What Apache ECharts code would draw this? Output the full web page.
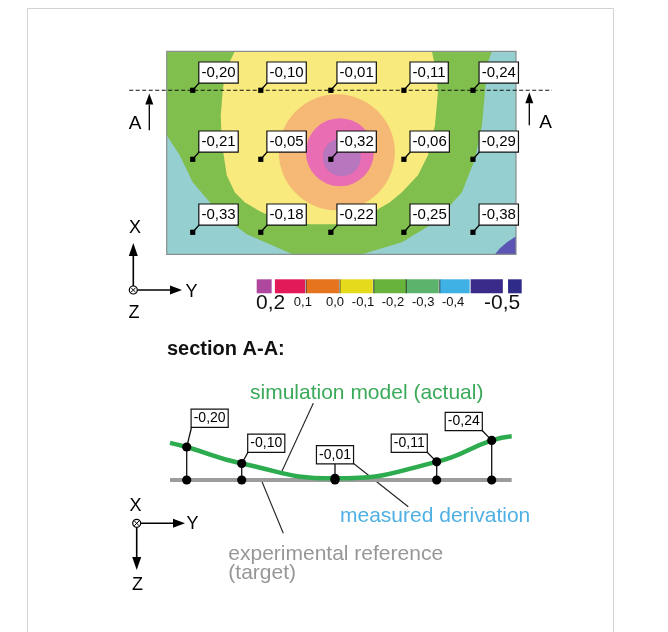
<!DOCTYPE html>
<html>
<head>
<meta charset="utf-8">
<script src="https://cdn.jsdelivr.net/npm/echarts@6/dist/echarts.min.js"></script>
<style>
html,body{margin:0;padding:0;background:#fff}
#chart{width:668px;height:632px}
</style>
</head>
<body>
<div id="chart"></div>
<script>
// ---- measured deviations on the sheet (mm), 3 rows x 5 columns ----
const colPos  = [26, 94, 164, 237, 306];      // position along Y
const rowPos  = [164, 95, 22];                 // position along X
const devRow1 = [-0.20, -0.10, -0.01, -0.11, -0.24];
const devRow2 = [-0.21, -0.05, -0.32, -0.06, -0.29];
const devRow3 = [-0.33, -0.18, -0.22, -0.25, -0.38];

// ---- simulated deviation field: contour zones (outer to inner) ----
const zoneBase   = [[0, 0], [349, 0], [349, 203], [0, 203]];
const zoneGreen  = [[0, 203], [0, 119], [13, 99], [26, 72], [43, 52], [60, 35], [80, 20], [103, 10], [126, 0],
                    [195, 0], [235, 12], [268, 32], [295, 62], [308, 95], [315, 129], [318, 162], [321, 192], [325, 203]];
const zoneYellow = [[68, 203], [59, 184], [56, 164], [54, 139], [55, 112], [60, 79], [68, 62], [78, 52], [93, 43],
                    [113, 34], [143, 30], [173, 30], [201, 39], [223, 52], [235, 62], [251, 79], [261, 99],
                    [268, 129], [271, 162], [269, 184], [265, 203]];
const zoneOrange = [170, 102, 58];   // centre Y, centre X, radius
const zonePink   = [173, 102, 34];
const zoneLilac  = [175, 97, 19];
const zoneViolet = [[328, 0], [333, 6], [340, 12], [349, 18], [349, 0]];

// ---- colour scale (mm) ----
const scaleBandStart = [0, 0.56, 1.52, 2.56, 3.6, 4.6, 5.63, 6.58, 7.73];
const scaleBandEnd   = [0.46, 1.49, 2.53, 3.57, 4.6, 5.6, 6.55, 7.57, 8.15];
const scaleLabels    = ['0,2', '0,1', '0,0', '-0,1', '-0,2', '-0,3', '-0,4', '-0,5'];
const scaleLabelPos  = [0.43, 1.42, 2.41, 3.27, 4.19, 5.12, 6.04, 7.55];

// ---- section A-A (through the first row) ----
const secPos   = [16.7, 71.7, 165, 266.7, 321.7];
const simEndPos = [0, 341.7];
const simEndDev = [-0.225, -0.265];
const refPos   = [0, 341.7];
const refDev   = [0, 0];

// ---------------------------------------------------------------
const FONT = "'Liberation Sans', Arial, Helvetica, sans-serif";
const zoneFill = ['#95cfcf', '#80be4e', '#f8ea7c', '#f5b975', '#e86db2', '#b876be', '#5d55b3'];
const scaleFill = ['#b0479f', '#e31a5a', '#e6731e', '#e6da1c', '#68b33c', '#5cb36c', '#3fb1e5', '#3a2a8a', '#2f2b88'];
const secLabelLayout = [['left', 5, -53.3], ['left', 6.6, -28.3], ['center', 0, -16.7], ['right', -10, -28.3], ['right', -10, -50]];

const fmt = v => (v < 0 ? '-' : '') + Math.abs(v).toFixed(2).replace('.', ',');

const zones = [
  {poly: zoneBase}, {poly: zoneGreen}, {poly: zoneYellow},
  {circle: zoneOrange}, {circle: zonePink}, {circle: zoneLilac}, {poly: zoneViolet}
];

const mapPoints = [];
[devRow1, devRow2, devRow3].forEach((row, r) => {
  row.forEach((v, c) => mapPoints.push([colPos[c], rowPos[r], v]));
});

const simData = [[simEndPos[0], simEndDev[0]]]
  .concat(secPos.map((p, i) => [p, devRow1[i]]))
  .concat([[simEndPos[1], simEndDev[1]]]);
const refData = refPos.map((p, i) => [p, refDev[i]]);
const secData = secPos.map((p, i) => [p, devRow1[i]]);

function arrow(x1, y1, x2, y2, head, half, lw) {
  const dx = x2 - x1, dy = y2 - y1, len = Math.hypot(dx, dy), ux = dx / len, uy = dy / len;
  const bx = x2 - ux * head, by = y2 - uy * head;
  return [
    {type: 'line', shape: {x1: x1, y1: y1, x2: bx, y2: by}, style: {stroke: '#000', lineWidth: lw}},
    {type: 'polygon', shape: {points: [[x2, y2], [bx - uy * half, by + ux * half], [bx + uy * half, by - ux * half]]}, style: {fill: '#000'}}
  ];
}
function otimes(cx, cy, r) {
  const d = r * 0.62;
  return [
    {type: 'circle', shape: {cx: cx, cy: cy, r: r}, style: {fill: '#fff', stroke: '#000', lineWidth: 1.2}},
    {type: 'line', shape: {x1: cx - d, y1: cy - d, x2: cx + d, y2: cy + d}, style: {stroke: '#000', lineWidth: 1}},
    {type: 'line', shape: {x1: cx - d, y1: cy + d, x2: cx + d, y2: cy - d}, style: {stroke: '#000', lineWidth: 1}}
  ];
}
function label(text, x, y, size, color, weight, align) {
  return {type: 'text', x: x, y: y, style: {text: text, font: (weight || 'normal') + ' ' + size + 'px ' + FONT,
    fill: color || '#000', align: align || 'center', verticalAlign: 'middle'}};
}
function line(x1, y1, x2, y2, color, lw) {
  return {type: 'line', shape: {x1: x1, y1: y1, x2: x2, y2: y2}, style: {stroke: color || '#222', lineWidth: lw || 1}};
}

const graphics = [].concat(
  [{type: 'rect', shape: {x: 27.5, y: 8.5, width: 586, height: 640}, style: {fill: 'none', stroke: '#d2d2d2', lineWidth: 1}}],
  // coordinate system of the plan view
  [label('X', 135, 228.5, 18)],
  arrow(133.3, 286, 133.3, 243, 13, 4.5, 1.6),
  arrow(137.3, 290, 182, 290, 12, 4.5, 1.6),
  otimes(133.3, 290, 4),
  [label('Y', 191.5, 292.5, 18), label('Z', 134, 313.5, 18)],
  // section title and legend texts
  [label('section A-A:', 167, 349.5, 20, '#111', 'bold', 'left')],
  [label('simulation model (actual)', 250, 393, 21, '#3aa95a', 'normal', 'left')],
  [line(313.3, 403.3, 281.7, 471.7, '#222', 1.1)],
  [label('measured derivation', 340, 516.7, 21, '#4fb0e3', 'normal', 'left')],
  [line(353.3, 463.3, 408.3, 506.7, '#222', 1.1)],
  [label('experimental reference', 228.3, 554.4, 21, '#979797', 'normal', 'left'),
   label('(target)', 228.3, 573, 21, '#979797', 'normal', 'left')],
  [line(261.7, 481, 283.3, 533.3, '#222', 1.1)],
  // coordinate system of the section
  [label('X', 135.5, 506, 18)],
  arrow(140.7, 523.3, 185, 523.3, 12, 4.5, 1.6),
  arrow(136.7, 527.3, 136.7, 570, 13, 4.5, 1.6),
  otimes(136.7, 523.3, 4),
  [label('Y', 192.5, 524.5, 18), label('Z', 137.5, 585, 18)]
);

const chart = echarts.init(document.getElementById('chart'), null, {renderer: 'canvas'});
chart.setOption({
  animation: false,
  backgroundColor: '#fff',
  grid: [
    {left: 166.7, top: 51.3, width: 349.3, height: 203, show: false},
    {left: 256.7, top: 279.3, width: 265, height: 14, show: false},
    {left: 170, top: 430.5, width: 341.7, height: 57.75, show: false}
  ],
  xAxis: [
    {gridIndex: 0, type: 'value', min: 0, max: 349, show: false},
    {gridIndex: 1, type: 'value', min: 0, max: 8.15, show: false},
    {gridIndex: 2, type: 'value', min: 0, max: 341.7, show: false}
  ],
  yAxis: [
    {gridIndex: 0, type: 'value', min: 0, max: 203, show: false},
    {gridIndex: 1, type: 'value', min: 0, max: 1, show: false},
    {gridIndex: 2, type: 'value', min: -0.30, max: 0.05, inverse: true, show: false}
  ],
  graphic: graphics,
  series: [
    // contour zones of the deviation field
    {
      type: 'custom', xAxisIndex: 0, yAxisIndex: 0, clip: true, z: 1,
      data: zones.map((z, i) => [0, 0, i]),
      encode: {x: 0, y: 1},
      renderItem: function (params, api) {
        const z = zones[params.dataIndex];
        const fill = zoneFill[params.dataIndex];
        if (z.poly) {
          return {type: 'polygon', shape: {points: z.poly.map(p => api.coord(p))}, style: {fill: fill}};
        }
        const c = api.coord([z.circle[0], z.circle[1]]);
        const r = api.size([z.circle[2], 0])[0];
        return {type: 'circle', shape: {cx: c[0], cy: c[1], r: r}, style: {fill: fill}};
      }
    },
    // plate outline
    {
      type: 'custom', xAxisIndex: 0, yAxisIndex: 0, z: 2,
      data: [[0, 0]],
      renderItem: function (params, api) {
        const a = api.coord([0, 203]), b = api.coord([349, 0]);
        return {type: 'rect', shape: {x: a[0], y: a[1], width: b[0] - a[0], height: b[1] - a[1]},
          style: {fill: 'none', stroke: '#8a8f8f', lineWidth: 1.2}};
      }
    },
    // cut line A-A
    {
      type: 'custom', xAxisIndex: 0, yAxisIndex: 0, z: 3,
      data: [[0, rowPos[0]]],
      renderItem: function (params, api) {
        const l = api.coord([0, api.value(1)]), r = api.coord([349, api.value(1)]);
        const y = l[1];
        const kids = [{type: 'line', shape: {x1: l[0] - 37.5, y1: y, x2: r[0] + 36, y2: y},
          style: {stroke: '#111', lineWidth: 1.1, lineDash: [4, 2.5]}}];
        return {type: 'group', children: kids.concat(
          arrow(l[0] - 17.4, y + 40, l[0] - 17.4, y + 3.3, 11, 4, 1.3),
          arrow(r[0] + 13.3, y + 35, r[0] + 13.3, y + 2, 11, 4, 1.3),
          [label('A', l[0] - 31.7, y + 33, 19), label('A', r[0] + 29.5, y + 32, 19)]
        )};
      }
    },
    // measuring points with their deviations
    {
      type: 'custom', xAxisIndex: 0, yAxisIndex: 0, z: 4,
      data: mapPoints,
      encode: {x: 0, y: 1},
      renderItem: function (params, api) {
        const p = api.coord([api.value(0), api.value(1)]);
        const bx = p[0] + 6.7, by = p[1] - 7.7;
        return {type: 'group', children: [
          {type: 'line', shape: {x1: p[0], y1: p[1], x2: bx, y2: by}, style: {stroke: '#000', lineWidth: 1.3}},
          {type: 'rect', shape: {x: p[0] - 2.6, y: p[1] - 2.6, width: 5.2, height: 5.2}, style: {fill: '#000'}},
          {type: 'text', x: bx, y: by, style: {text: fmt(api.value(2)), font: '15px ' + FONT, fill: '#000',
            align: 'left', verticalAlign: 'bottom', lineHeight: 17, backgroundColor: '#fff',
            borderColor: '#111', borderWidth: 1.2, padding: [2, 2, 1, 2]}}
        ]};
      }
    },
    // colour scale bands
    {
      type: 'custom', xAxisIndex: 1, yAxisIndex: 1, z: 2,
      data: scaleBandStart.map((s, i) => [s, scaleBandEnd[i], i]),
      renderItem: function (params, api) {
        const a = api.coord([api.value(0), 1]), b = api.coord([api.value(1), 0]);
        const i = params.dataIndex;
        const kids = [{type: 'rect', shape: {x: a[0], y: a[1], width: b[0] - a[0], height: b[1] - a[1]}, style: {fill: scaleFill[i]}}];
        if (i >= 2 && i <= 6) {
          kids.push({type: 'line', shape: {x1: a[0], y1: a[1], x2: a[0], y2: b[1]}, style: {stroke: 'rgba(20,20,20,0.75)', lineWidth: 1}});
        }
        return {type: 'group', children: kids};
      }
    },
    // colour scale labels
    {
      type: 'custom', xAxisIndex: 1, yAxisIndex: 1, z: 2,
      data: scaleLabelPos.map((p, i) => [p, 0, i]),
      renderItem: function (params, api) {
        const i = params.dataIndex;
        const big = i === 0 || i === scaleLabels.length - 1;
        const p = api.coord([api.value(0), 0]);
        return label(scaleLabels[i], p[0], p[1] + (big ? 9.5 : 9), big ? 21 : 13, '#111');
      }
    },
    // experimental reference (target)
    {
      type: 'line', xAxisIndex: 2, yAxisIndex: 2, z: 2,
      data: refData, symbol: 'none',
      lineStyle: {color: '#9c9c9c', width: 4}
    },
    // simulation model (actual)
    {
      type: 'line', xAxisIndex: 2, yAxisIndex: 2, z: 3,
      data: simData, symbol: 'none', smooth: 0.5,
      lineStyle: {color: '#2dab4f', width: 4.5}
    },
    // measured deviation between target and actual
    {
      type: 'custom', xAxisIndex: 2, yAxisIndex: 2, z: 4,
      data: secData,
      encode: {x: 0, y: 1},
      renderItem: function (params, api) {
        const i = params.dataIndex;
        const top = api.coord([api.value(0), api.value(1)]);
        const base = api.coord([api.value(0), 0]);
        const lay = secLabelLayout[i];
        const ax = top[0] + lay[1], ay = base[1] + lay[2];
        return {type: 'group', children: [
          {type: 'line', shape: {x1: top[0], y1: top[1], x2: base[0], y2: base[1]}, style: {stroke: '#111', lineWidth: 1.3}},
          {type: 'line', shape: {x1: top[0], y1: top[1], x2: ax, y2: ay}, style: {stroke: '#111', lineWidth: 1.3}},
          {type: 'circle', shape: {cx: top[0], cy: top[1], r: 4.6}, style: {fill: '#000'}},
          {type: 'circle', shape: {cx: base[0], cy: base[1], r: 4.6}, style: {fill: '#000'}},
          {type: 'text', x: ax, y: ay, style: {text: fmt(api.value(1)), font: '14px ' + FONT, fill: '#000',
            align: lay[0], verticalAlign: 'bottom', lineHeight: 15, backgroundColor: '#fff',
            borderColor: '#111', borderWidth: 1.2, padding: [1, 2, 1, 2]}}
        ]};
      }
    }
  ]
});
</script>
</body>
</html>
